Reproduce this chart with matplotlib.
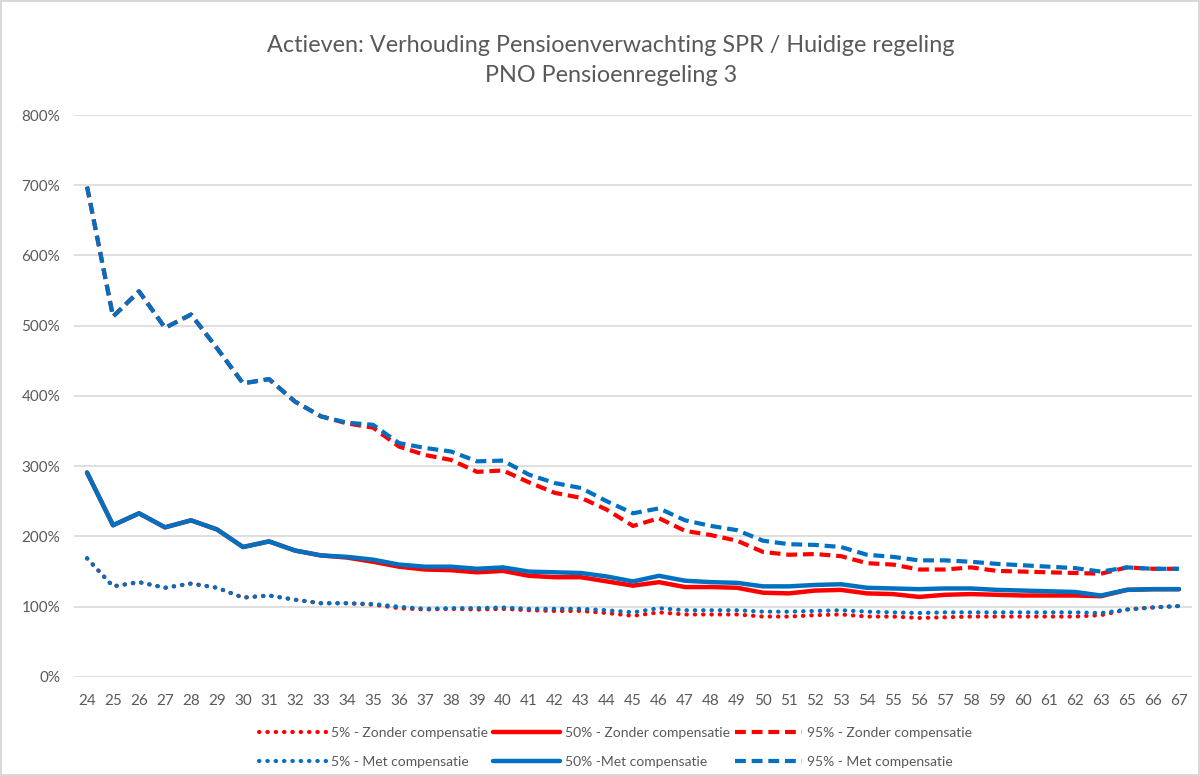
import matplotlib
matplotlib.use("Agg")
import matplotlib.pyplot as plt
from matplotlib.ticker import FuncFormatter

plt.rcParams['font.family'] = ['Lato', 'DejaVu Sans']

# Ages on the category axis (64 is not in the data)
ages = list(range(24, 64)) + [65, 66, 67]

# Ratio SPR / current scheme, in percent
p5_zonder = [169, 129, 135, 127, 133, 127, 113, 116, 110, 105,
             105, 103, 98, 96, 97, 96, 97, 95, 94, 94,
             91, 87, 92, 89, 89, 89, 86, 86, 88, 89,
             86, 86, 84, 85, 86, 86, 86, 86, 86, 88,
             96, 99, 101]
p50_zonder = [291, 216, 233, 213, 223, 210, 185, 193, 180, 173,
              170, 164, 157, 153, 152, 149, 151, 144, 142, 142,
              136, 130, 135, 128, 128, 127, 120, 119, 123, 124,
              119, 118, 114, 117, 118, 117, 116, 116, 116, 115,
              124, 125, 125]
p95_zonder = [698, 513, 549, 497, 516, 468, 418, 424, 392, 371,
              361, 355, 328, 316, 309, 292, 294, 277, 262, 255,
              238, 215, 226, 208, 202, 194, 178, 174, 175, 172,
              162, 160, 153, 153, 156, 151, 150, 149, 148, 147,
              156, 154, 154]
p5_met = [169, 129, 135, 127, 133, 127, 113, 116, 110, 105,
          105, 104, 100, 97, 98, 98, 99, 97, 97, 97,
          95, 92, 98, 95, 95, 95, 93, 93, 94, 95,
          93, 92, 91, 92, 92, 92, 92, 92, 92, 91,
          96, 99, 101]
p50_met = [291, 216, 233, 213, 223, 210, 185, 193, 180, 173,
           171, 167, 160, 157, 157, 154, 156, 150, 149, 148,
           143, 136, 144, 137, 135, 134, 129, 129, 131, 132,
           127, 126, 125, 126, 126, 124, 123, 122, 121, 116,
           124, 125, 125]
p95_met = [698, 513, 549, 497, 516, 468, 418, 424, 392, 371,
           362, 359, 333, 326, 321, 307, 308, 288, 276, 269,
           250, 233, 240, 223, 215, 209, 194, 189, 188, 185,
           174, 171, 166, 166, 164, 161, 159, 157, 155, 150,
           156, 154, 154]

RED = "#FF0000"
BLUE = "#0070C0"
GREY = "#595959"

fig = plt.figure(figsize=(12, 7.76), dpi=100)
fig.patch.set_edgecolor("#D9D9D9")
fig.patch.set_linewidth(1.5)
ax = fig.add_axes([0.0617, 0.1276, 0.9316, 0.7242])

x = list(range(len(ages)))
dot = dict(linestyle=(0, (0.1, 1.9)), dash_capstyle="round", lw=3)
solid = dict(linestyle="-", lw=3.2, solid_capstyle="round", solid_joinstyle="round")
dash = dict(linestyle=(0, (2.6, 1.4)), lw=3)

series = [
    (p5_zonder, RED, dot, "5% - Zonder compensatie"),
    (p5_met, BLUE, dot, "5% - Met compensatie"),
    (p50_zonder, RED, solid, "50% - Zonder compensatie"),
    (p50_met, BLUE, solid, "50% -Met compensatie"),
    (p95_zonder, RED, dash, "95% - Zonder compensatie"),
    (p95_met, BLUE, dash, "95% - Met compensatie"),
]

handles = []
# red series first so the blue ones sit on top where they overlap
for vals, color, style, label in series:
    z = 3 if color == RED else 4
    h, = ax.plot(x, vals, color=color, label=label, zorder=z, **style)
    handles.append(h)

ax.set_xlim(-0.5, len(ages) - 0.5)
ax.set_ylim(0, 800)
ax.set_yticks(range(0, 801, 100))
ax.yaxis.set_major_formatter(FuncFormatter(lambda v, p: f"{int(v)}%"))
ax.set_xticks(x)
ax.set_xticklabels([str(a) for a in ages])
ax.tick_params(axis="both", length=0, colors=GREY, labelsize=11)
ax.tick_params(axis="x", pad=12)
ax.tick_params(axis="y", pad=10)
ax.grid(axis="y", color="#D9D9D9", lw=1.2)
ax.set_axisbelow(True)
for s in ax.spines.values():
    s.set_visible(False)

fig.text(0.509, 0.942, "Actieven: Verhouding Pensioenverwachting SPR / Huidige regeling",
         ha="center", va="center", fontsize=16.8, color=GREY)
fig.text(0.509, 0.903, "PNO Pensioenregeling 3",
         ha="center", va="center", fontsize=16.8, color=GREY)

fig.legend(handles=handles, loc="upper center", bbox_to_anchor=(0.513, 0.079),
           ncol=3, frameon=False, fontsize=10, handlelength=4.8,
           labelspacing=1.2, columnspacing=0.4, handletextpad=0.35,
           labelcolor=GREY)

fig.savefig("out.png", dpi=100)
